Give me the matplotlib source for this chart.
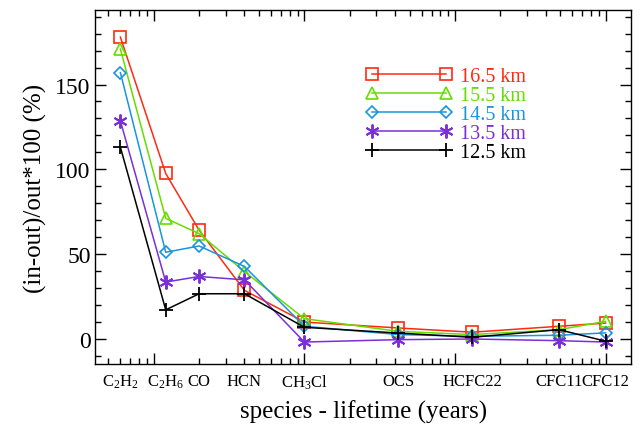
import matplotlib
matplotlib.use("Agg")
import matplotlib.pyplot as plt
from matplotlib.ticker import LogLocator, NullFormatter, MultipleLocator

plt.rcParams["font.family"] = ["Liberation Serif", "DejaVu Serif"]
plt.rcParams["mathtext.fontset"] = "custom"
plt.rcParams["mathtext.rm"] = "Liberation Serif"
plt.rcParams["mathtext.it"] = "Liberation Serif"

# species and approximate lifetimes (years)
species = [r"C$_2$H$_2$", r"C$_2$H$_6$", "CO", "HCN", r"CH$_3$Cl",
           "OCS", "HCFC22", "CFC11", "CFC12"]
lifetime = [0.06, 0.12, 0.2, 0.4, 1.0, 4.2, 13.0, 49.0, 100.0]

# (in-out)/out*100 per altitude
km165 = [178, 97.5, 64, 28.5, 9.8, 6.3, 3.8, 7.3, 9.2]
km155 = [171, 71, 62, 39.6, 11.8, 4.3, 2.4, 5.3, 10.2]
km145 = [157, 51, 54.7, 42.6, 7.3, 2.4, 1.4, 2.0, 3.4]
km135 = [128.5, 33.4, 36.7, 34.7, -2.0, -0.6, -0.2, -1.2, -2.0]
km125 = [113, 17, 26.5, 26.5, 6.7, 3.3, 0.8, 5.3, -1.5]

fig = plt.figure(figsize=(6.43, 4.31), dpi=100)
ax = fig.add_axes([0.1485, 0.153, 0.8325, 0.8215])

ax.plot(lifetime, km165, color="#ff2a10", marker="s", ms=8.5, mfc="none", mew=1.2, lw=1.1, label="16.5 km")
ax.plot(lifetime, km155, color="#66dd00", marker="^", ms=8.5, mfc="none", mew=1.2, lw=1.1, label="15.5 km")
ax.plot(lifetime, km145, color="#1a95dc", marker="D", ms=6.5, mfc="none", mew=1.2, lw=1.1, label="14.5 km")
ax.plot(lifetime, km135, color="#7b2fd6", marker=(6, 2, 0), ms=10, mew=1.4, lw=1.1, label="13.5 km")
ax.plot(lifetime, km125, color="black", marker="+", ms=10, mew=1.3, lw=1.1, label="12.5 km")

ax.set_xscale("log")
ax.set_xlim(0.041, 147)
ax.set_ylim(-15, 194)

ax.xaxis.set_major_locator(LogLocator(base=10))
ax.xaxis.set_minor_locator(LogLocator(base=10, subs=range(2, 10)))
ax.xaxis.set_major_formatter(NullFormatter())
ax.xaxis.set_minor_formatter(NullFormatter())
ax.yaxis.set_major_locator(MultipleLocator(50))
ax.yaxis.set_minor_locator(MultipleLocator(10))

ax.tick_params(which="both", direction="in", top=True, right=True, labelsize=17)
ax.tick_params(which="major", length=8, width=1)
ax.tick_params(which="minor", length=4, width=1)
for s in ax.spines.values():
    s.set_linewidth(1)

for x, name in zip(lifetime, species):
    ax.text(x, -0.025, name, transform=ax.get_xaxis_transform(),
            ha="center", va="top", fontsize=12)

ax.set_xlabel("species - lifetime (years)", fontsize=18, labelpad=22)
ax.set_ylabel("(in-out)/out*100 (%)", fontsize=18, labelpad=6)

ax.legend(loc="upper left", bbox_to_anchor=(0.505, 0.84), frameon=False,
          numpoints=2, handlelength=4.3, handletextpad=0.4,
          labelspacing=0.0, fontsize=14.5, labelcolor="linecolor",
          borderpad=0, borderaxespad=0)

fig.savefig("out.png", dpi=100)
